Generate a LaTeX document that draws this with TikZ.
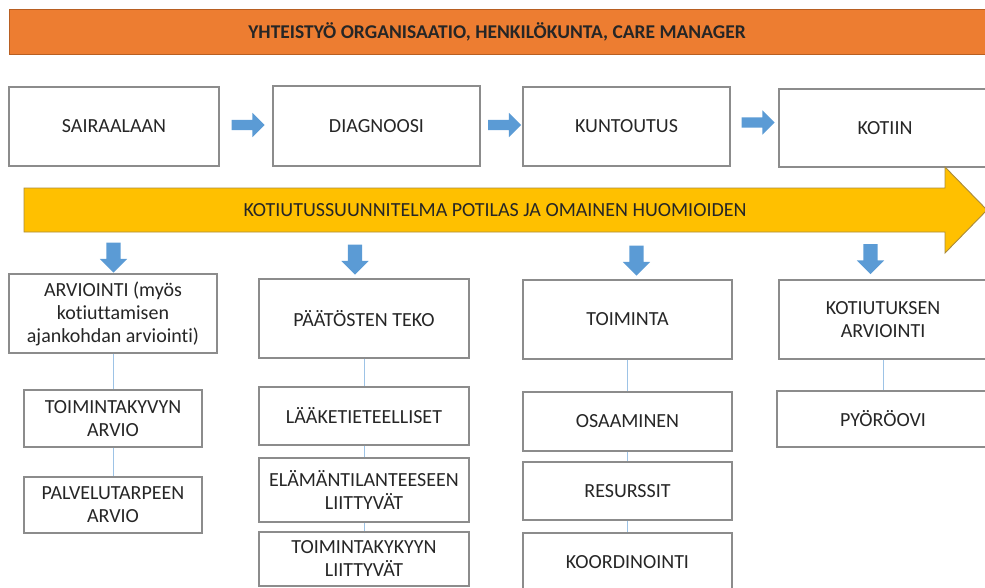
\documentclass[tikz,border=0pt]{standalone}
\usepackage{fontspec}
\setmainfont{Carlito}[Ligatures={NoCommon,NoRare}]
\usetikzlibrary{shapes.arrows}
\definecolor{orangebar}{HTML}{ED7D31}
\definecolor{orangeline}{HTML}{B85F22}
\definecolor{goldbar}{HTML}{FFC000}
\definecolor{goldline}{HTML}{A98B3C}
\definecolor{arrowblue}{HTML}{5B9BD5}
\definecolor{linkblue}{HTML}{9DC3E6}
\definecolor{boxline}{HTML}{8C8C8C}
\definecolor{txt}{HTML}{262626}
\tikzset{
  box/.style={draw=boxline, line width=1.1pt, fill=white, rectangle, inner sep=2pt,
    align=center, text=txt, font=\fontsize{20}{23}\selectfont},
  rarrow/.style={single arrow, fill=arrowblue, draw=none, inner xsep=0pt, inner ysep=5pt,
    minimum height=33pt, single arrow head extend=7pt},
  darrow/.style={single arrow, fill=arrowblue, draw=none, inner xsep=0pt, inner ysep=7pt, rotate=-90,
    minimum height=30pt, single arrow head extend=6.5pt},
  link/.style={draw=linkblue, line width=1pt}
}
\begin{document}
\begin{tikzpicture}[x=1pt,y=-1pt]
\path[use as bounding box] (0,0) rectangle (985,587);
\clip (0,0) rectangle (985,587);
% top orange bar
\draw[fill=orangebar, draw=orangeline, line width=0.9pt] (9,9) rectangle (995,54);
\node[font=\bfseries\fontsize{19.5}{22}\selectfont, text=black!85] (title) at (497,32)
  {YHTEISTYÖ ORGANISAATIO, HENKILÖKUNTA, CARE MANAGER};
% top row
\node[box, minimum width=210pt, minimum height=79pt] (sai) at (114,126.5) {SAIRAALAAN};
\node[box, minimum width=207pt, minimum height=80pt] (dia) at (376.5,126) {DIAGNOOSI};
\node[box, minimum width=207pt, minimum height=79pt] (kun) at (626.5,126.5) {KUNTOUTUS};
\node[box, minimum width=212pt, minimum height=78pt] (koti) at (885,128) {KOTIIN};
\node[rarrow] (a1) at (245.5,125) {};
\node[rarrow] (a2) at (502,125) {};
\node[rarrow] (a3) at (755.5,122.5) {};
% yellow arrow
\draw[fill=goldbar, draw=goldline, line width=0.9pt]
  (24,188) -- (945,188) -- (945,167) -- (987,210) -- (945,253) -- (945,232) -- (24,232) -- cycle;
\node[font=\fontsize{20}{23}\selectfont, text=txt] (plan) at (495,210)
  {KOTIUTUSSUUNNITELMA POTILAS JA OMAINEN HUOMIOIDEN};
% down arrows
\node[darrow] (d1) at (113.5,254) {};
\node[darrow] (d2) at (355,256) {};
\node[darrow] (d3) at (636.5,257) {};
\node[darrow] (d4) at (870.5,255.5) {};
% column 1
\node[box, minimum width=208pt, minimum height=79pt] (arv) at (113,313.5)
  {ARVIOINTI (myös\\kotiuttamisen\\ajankohdan arviointi)};
\node[box, minimum width=178pt, minimum height=57pt] (tkv) at (113,418.5) {TOIMINTAKYVYN\\ARVIO};
\node[box, minimum width=178pt, minimum height=56pt] (pal) at (113,505) {PALVELUTARPEEN\\ARVIO};
% column 2
\node[box, minimum width=210pt, minimum height=79pt] (pat) at (364,318.5) {PÄÄTÖSTEN TEKO};
\node[box, minimum width=210pt, minimum height=58pt] (laa) at (364,416) {LÄÄKETIETEELLISET};
\node[box, minimum width=210pt, minimum height=64pt] (ela) at (364,490) {ELÄMÄNTILANTEESEEN\\LIITTYVÄT};
\node[box, minimum width=210pt, minimum height=54pt] (tky) at (364,559) {TOIMINTAKYKYYN\\LIITTYVÄT};
% column 3
\node[box, minimum width=209pt, minimum height=79pt] (toi) at (627.5,319.5) {TOIMINTA};
\node[box, minimum width=209pt, minimum height=59pt] (osa) at (627.5,421.5) {OSAAMINEN};
\node[box, minimum width=209pt, minimum height=58pt] (res) at (627.5,491) {RESURSSIT};
\node[box, minimum width=209pt, minimum height=58pt] (koo) at (627.5,562) {KOORDINOINTI};
% column 4
\node[box, minimum width=208pt, minimum height=79pt] (kar) at (883,319.5) {KOTIUTUKSEN\\ARVIOINTI};
\node[box, minimum width=212pt, minimum height=56pt] (pyo) at (883,419) {PYÖRÖOVI};
% links
\draw[link] (arv.south) -- (tkv.north);
\draw[link] (tkv.south) -- (pal.north);
\draw[link] (pat.south) -- (laa.north);
\draw[link] (laa.south) -- (ela.north);
\draw[link] (ela.south) -- (tky.north);
\draw[link] (toi.south) -- (osa.north);
\draw[link] (osa.south) -- (res.north);
\draw[link] (res.south) -- (koo.north);
\draw[link] (kar.south) -- (pyo.north);
\end{tikzpicture}
\end{document}
